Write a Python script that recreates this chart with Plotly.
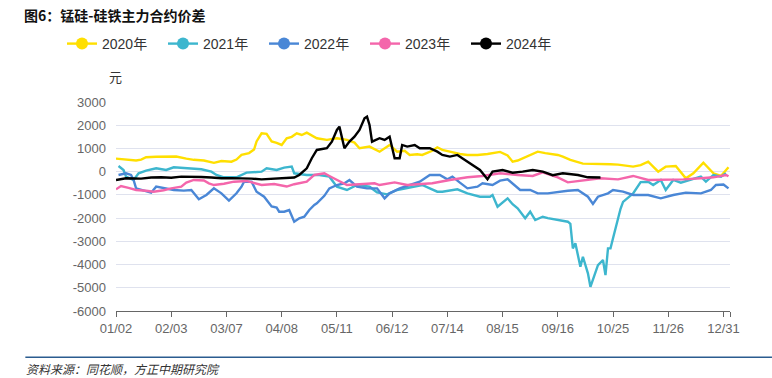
import plotly.graph_objects as go

# ---------------- data (trading-day index within year, spread in 元) ----------------
tick_labels = ["01/02", "02/03", "03/07", "04/08", "05/11", "06/12",
               "07/14", "08/15", "09/16", "10/25", "11/26", "12/31"]
tick_index = [0, 22, 44, 66, 88, 110, 132, 154, 176, 198, 220, 242]

years = ["2020年", "2021年", "2022年", "2023年", "2024年"]

x_2020 = [0, 3, 6, 8, 10, 12, 16, 20, 24, 28, 31, 35, 39, 42, 46, 48, 50, 53, 55, 56, 58, 60,
          62, 64, 66, 68, 70, 72, 74, 76, 78, 80, 84, 88, 92, 95, 97, 101, 105, 109, 112, 115,
          117, 120, 122, 126, 128, 130, 133, 137, 140, 144, 148, 150, 153, 156, 158, 160, 162,
          165, 168, 171, 176, 178, 181, 186, 193, 197, 200, 206, 209, 212, 216, 219, 223, 227,
          230, 234, 238, 241, 244]
y_2020 = [560, 540, 500, 480, 520, 620, 640, 640, 650, 560, 510, 480, 380, 460, 430, 520, 720,
          800, 950, 1300, 1650, 1630, 1300, 1240, 1150, 1440, 1500, 1650, 1580, 1680, 1550, 1440,
          1370, 1440, 1370, 1250, 1010, 1080, 860, 1150, 860, 900, 720, 750, 720, 900, 1050, 940,
          860, 760, 720, 720, 760, 800, 850, 700, 431, 480, 578, 700, 862, 800, 720, 650, 504,
          345, 345, 320, 302, 216, 280, 431, 0, 216, 245, -285, -70, 388, -70, -185, 190]

x_2021 = [1, 3, 4, 7, 9, 12, 16, 20, 23, 28, 34, 38, 40, 43, 48, 52, 58, 60, 64, 67, 70, 71,
          76, 81, 85, 88, 92, 96, 101, 104, 108, 112, 117, 122, 125, 128, 130, 136, 140, 145,
          149, 150, 152, 156, 158, 160, 163, 165, 167, 170, 172, 176, 180, 181, 182, 183, 185,
          186, 188, 189, 191, 192, 194, 195, 196, 197, 198, 200, 201, 202, 205, 206, 209, 212,
          214, 217, 219, 222, 225, 229, 233, 235, 238, 241, 243]
y_2021 = [245, 73, -215, -358, -70, 43, 146, 73, 190, 146, 103, 0, -142, -243, -243, -43, 0,
          146, 73, 175, 216, -70, -142, -142, -215, -646, -790, -575, -646, -890, -977, -790,
          -690, -575, -718, -862, -862, -760, -933, -1078, -1078, -1004, -1508, -1148, -1400,
          -1580, -2010, -1724, -2082, -1940, -2000, -2082, -2155, -2250, -3302, -3086, -4095,
          -3664, -4380, -4957, -4380, -4022, -3806, -4452, -3302, -3302, -2870, -1940, -1600,
          -1300, -1004, -933, -450, -431, -575, -358, -790, -358, -474, -358, -215, -431, -142,
          -215, -70]

x_2022 = [1, 4, 6, 7, 8, 11, 14, 16, 19, 23, 27, 30, 33, 36, 39, 42, 45, 48, 50, 51, 54, 56,
          59, 62, 64, 65, 67, 69, 71, 73, 75, 77, 79, 80, 83, 85, 88, 91, 93, 96, 100, 104, 107,
          109, 113, 117, 121, 125, 129, 132, 134, 137, 140, 144, 146, 150, 153, 156, 158, 161,
          165, 168, 172, 176, 180, 184, 188, 190, 192, 196, 198, 202, 206, 212, 217, 222, 227,
          233, 237, 239, 242, 244]
y_2022 = [-142, -70, -142, -358, -718, -818, -904, -646, -718, -790, -818, -790, -1190, -1004,
          -718, -933, -1250, -933, -646, -431, -431, -862, -1078, -1500, -1550, -1724, -1724,
          -1651, -2155, -2010, -1940, -1651, -1435, -1364, -1040, -718, -575, -500, -358, -646,
          -718, -718, -1148, -933, -718, -575, -431, -142, -142, -330, -215, -474, -718, -646,
          -500, -575, -388, -330, -500, -790, -790, -933, -933, -862, -820, -790, -1078, -1392,
          -1078, -933, -790, -862, -1004, -1004, -1148, -1004, -904, -933, -790, -575, -550,
          -718]

x_2023 = [0, 2, 5, 8, 12, 15, 19, 22, 26, 28, 31, 35, 37, 39, 43, 47, 52, 58, 63, 68, 71, 76,
          79, 83, 85, 88, 92, 97, 103, 105, 111, 116, 121, 126, 133, 140, 146, 153, 160, 166,
          170, 176, 180, 186, 193, 200, 206, 212, 219, 226, 233, 238, 243, 244]
y_2023 = [-760, -617, -700, -790, -820, -862, -800, -718, -646, -474, -358, -380, -500, -575,
          -520, -431, -400, -575, -530, -640, -540, -431, -142, -70, -185, -358, -575, -540,
          -500, -575, -460, -575, -530, -500, -358, -243, -185, -70, -142, -185, -30, -243,
          -460, -380, -285, -330, -185, -358, -358, -330, -285, -243, -142, -200]

x_2024 = [0, 4, 10, 14, 18, 22, 26, 30, 34, 38, 42, 46, 50, 54, 58, 62, 65, 69, 71, 73, 76, 78,
          80, 84, 86, 88, 89, 91, 93, 95, 97, 99, 100, 101, 102, 105, 107, 109, 111, 113, 114,
          116, 119, 121, 125, 128, 130, 133, 136, 139, 141, 145, 148, 150, 154, 158, 162, 166,
          170, 174, 178, 184, 188, 193]
y_2024 = [-358, -285, -300, -250, -243, -260, -215, -215, -230, -250, -285, -280, -285, -300,
          -330, -310, -285, -285, -250, -142, 146, 578, 935, 1008, 1293, 1797, 1940, 1008, 1293,
          1508, 1797, 2300, 2370, 2013, 1293, 1440, 1366, 1508, 578, 578, 1150, 1080, 1150, 1008,
          1008, 862, 720, 647, 720, 504, 362, 73, -330, 0, 73, -43, 0, 73, 0, -150, -70, -142,
          -243, -250]

y_ticks = [3000, 2000, 1000, 0, -1000, -2000, -3000, -4000, -5000, -6000]

series_x = [x_2020, x_2021, x_2022, x_2023, x_2024]
series_y = [y_2020, y_2021, y_2022, y_2023, y_2024]
colors = ["#FFDF00", "#3DB6CE", "#4A87D6", "#F466AB", "#000000"]

# ---------------- layout geometry (pixels) ----------------
W, H = 772, 378
L, R, T, B = 115.7, 730.0, 102.3, 310.9
X_MAX = 244.6

def px(xp):
    return (xp - L) / (R - L)

def py(yp):
    return (B - yp) / (B - T)

FONT = "Liberation Sans, Arial, Noto Sans CJK SC, sans-serif"
CJK = "Noto Sans CJK SC, sans-serif"

fig = go.Figure()

for xs, ys, c, name in zip(series_x, series_y, colors, years):
    fig.add_trace(go.Scatter(x=xs, y=ys, mode="lines", name=name, showlegend=False,
                             line=dict(color=c, width=2.4), hoverinfo="skip"))

for c, name in zip(colors, years):
    fig.add_trace(go.Scatter(x=[None], y=[None], mode="lines+markers", name=name,
                             line=dict(color=c, width=2.4),
                             marker=dict(color=c, size=12)))

fig.update_layout(
    width=W, height=H,
    margin=dict(l=L, r=W - R, t=T, b=H - B, pad=0),
    paper_bgcolor="white", plot_bgcolor="white",
    font=dict(family=FONT, size=13, color="#666666"),
    showlegend=True,
    legend=dict(orientation="h", xref="container", yref="container",
                x=62 / W, y=1 - 44 / H, xanchor="left", yanchor="middle",
                entrywidth=56, entrywidthmode="pixels",
                font=dict(family=FONT, size=14, color="#333333"),
                itemwidth=30, tracegroupgap=0, bgcolor="rgba(0,0,0,0)"),
    xaxis=dict(range=[0, X_MAX], tickmode="array",
               tickvals=tick_index + [X_MAX], ticktext=tick_labels + [""],
               showgrid=False, zeroline=False, showline=True, linecolor="#666666",
               linewidth=1, ticks="outside", ticklen=5, tickcolor="#666666",
               tickfont=dict(family=FONT, size=13, color="#666666")),
    yaxis=dict(range=[-6000, 3000], tickmode="array", tickvals=y_ticks,
               ticktext=[str(v) for v in y_ticks],
               showgrid=True, gridcolor="#DFE2EE", gridwidth=1, zeroline=False,
               showline=False, ticks="", ticklabelstandoff=9,
               tickfont=dict(family=FONT, size=13, color="#666666")),
)

fig.add_annotation(text="<b>图6：锰硅-硅铁主力合约价差</b>", xref="paper", yref="paper",
                   x=px(22), y=py(15), xanchor="left", yanchor="middle", showarrow=False,
                   font=dict(family=CJK, size=14, color="#111111"))
fig.add_annotation(text="元", xref="paper", yref="paper", x=px(115.5), y=py(77),
                   xanchor="center", yanchor="middle", showarrow=False,
                   font=dict(family=CJK, size=13, color="#333333"))
fig.add_annotation(text="<i>资料来源：同花顺，方正中期研究院</i>", xref="paper", yref="paper",
                   x=px(24), y=py(368), xanchor="left", yanchor="middle", showarrow=False,
                   font=dict(family=CJK, size=12, color="#333333"))
fig.add_shape(type="line", xref="paper", yref="paper", x0=px(25), x1=px(772),
              y0=py(357), y1=py(357), line=dict(color="#2B5C8F", width=1.5))

fig.write_html("out.html", config={"displayModeBar": False},
               post_script="document.body.style.margin='0';document.body.style.overflow='hidden';")
